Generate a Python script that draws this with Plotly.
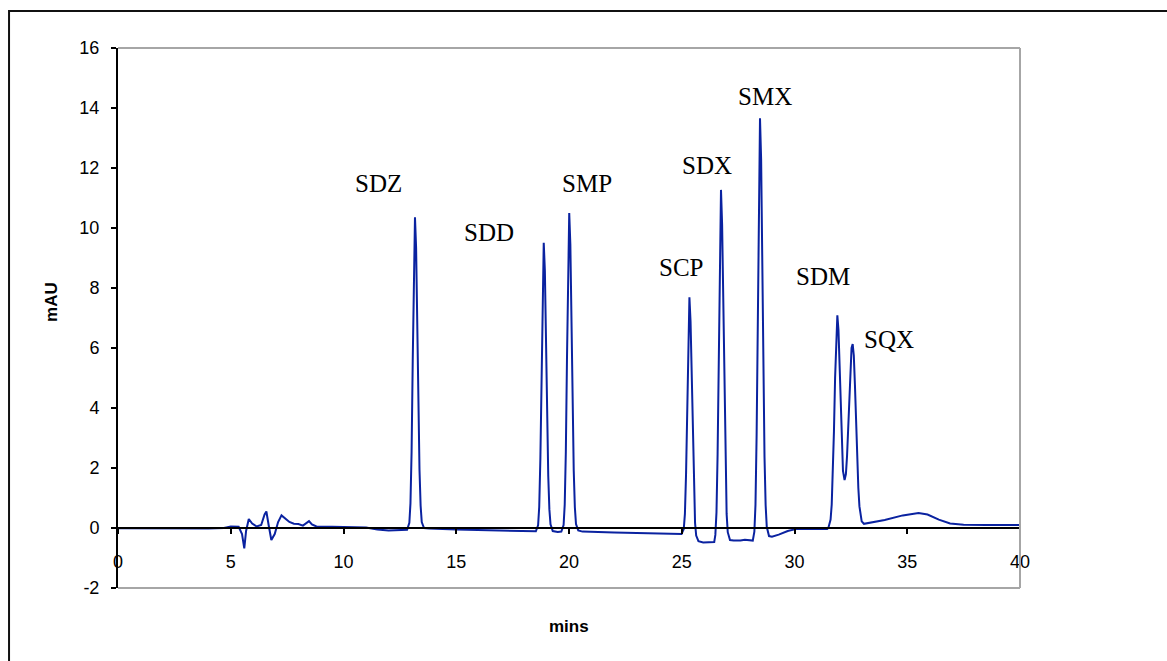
import plotly.graph_objects as go

# ---- data (time in minutes, signal in mAU) ----
time_min = [
    0.0, 2.0, 4.0, 4.7, 5.0, 5.35, 5.5, 5.6, 5.68, 5.8, 5.95, 6.15, 6.35, 6.5, 6.58, 6.68,
    6.8, 6.95, 7.1, 7.25, 7.4, 7.6, 7.8, 8.0, 8.2, 8.35, 8.47, 8.6, 8.8, 9.5, 10.5, 11.0,
    11.5, 12.0, 12.82,
    12.92, 12.97, 13.02, 13.07, 13.12, 13.17, 13.22, 13.27, 13.32, 13.37, 13.42, 13.47,
    13.57, 13.8, 15.0, 16.5, 17.8, 18.53,
    18.63, 18.68, 18.73, 18.78, 18.83, 18.88, 18.93, 18.98, 19.03, 19.08, 19.13, 19.18,
    19.28, 19.5, 19.66,
    19.76, 19.81, 19.86, 19.91, 19.96, 20.01, 20.06, 20.11, 20.16, 20.21, 20.26, 20.31,
    20.41, 20.6, 22.0, 23.5, 24.8, 24.99,
    25.09, 25.14, 25.19, 25.24, 25.29, 25.34, 25.39, 25.44, 25.49, 25.54, 25.59, 25.64,
    25.74, 25.95, 26.3, 26.44,
    26.49, 26.54, 26.59, 26.64, 26.69, 26.74, 26.79, 26.84, 26.89, 26.94, 26.99, 27.04,
    27.14, 27.3, 27.6, 27.8, 28.0, 28.15,
    28.22, 28.27, 28.32, 28.37, 28.42, 28.47, 28.52, 28.57, 28.62, 28.67, 28.72, 28.77,
    28.87, 29.0, 29.3, 29.7, 30.1, 31.0, 31.45,
    31.5, 31.6, 31.65, 31.7, 31.75, 31.8, 31.85, 31.9, 31.95, 32.0, 32.05, 32.1, 32.15,
    32.22, 32.28, 32.33, 32.38, 32.43, 32.48, 32.53, 32.58, 32.63, 32.68, 32.73, 32.78,
    32.83, 32.88, 32.98, 33.08, 33.3, 34.0, 34.8, 35.5, 35.9, 36.4, 36.9, 37.5, 38.5, 40.0,
]
mau = [
    -0.01, -0.02, -0.02, 0.0, 0.05, 0.04, -0.2, -0.68, -0.1, 0.3, 0.15, 0.05, 0.1, 0.45, 0.55, 0.1,
    -0.4, -0.2, 0.2, 0.42, 0.33, 0.2, 0.14, 0.13, 0.08, 0.15, 0.23, 0.12, 0.05, 0.04, 0.03, 0.02,
    -0.05, -0.08, -0.06,
    0.17, 0.83, 2.55, 5.57, 8.87, 10.36, 9.34, 6.84, 4.05, 1.94, 0.74, 0.20,
    0.0, -0.02, -0.05, -0.08, -0.1, -0.11,
    0.09, 0.71, 2.30, 5.08, 8.13, 9.51, 8.57, 6.26, 3.68, 1.73, 0.62, 0.12,
    -0.1, -0.13, -0.12,
    0.10, 0.78, 2.54, 5.61, 8.98, 10.50, 9.46, 6.91, 4.06, 1.91, 0.69, 0.13,
    -0.08, -0.12, -0.15, -0.18, -0.2, -0.2,
    -0.03, 0.47, 1.77, 4.06, 6.56, 7.69, 6.89, 4.94, 2.76, 1.10, 0.17, -0.25,
    -0.44, -0.48, -0.49, -0.47,
    -0.23, 0.52, 2.46, 5.87, 9.59, 11.27, 10.12, 7.32, 4.19, 1.81, 0.47, -0.14,
    -0.40, -0.42, -0.42, -0.39, -0.42, -0.42,
    -0.12, 0.78, 3.10, 7.18, 11.65, 13.66, 12.29, 8.94, 5.20, 2.37, 0.76, 0.04,
    -0.27, -0.29, -0.22, -0.1, -0.03, -0.03, -0.03,
    0.0, 0.28, 0.78, 1.75, 3.23, 5.0, 6.5, 7.09, 6.6, 5.3, 3.8, 2.6, 1.9,
    1.6, 1.8, 2.4, 3.3, 4.4, 5.4, 6.0, 6.13, 5.75, 4.77, 3.50, 2.28,
    1.34, 0.72, 0.22, 0.14, 0.17, 0.27, 0.42, 0.5, 0.45, 0.28, 0.15, 0.11, 0.1, 0.1,
]

peak_names = ["SDZ", "SDD", "SMP", "SCP", "SDX", "SMX", "SDM", "SQX"]
label_x = [11.53, 16.45, 20.78, 24.95, 26.11, 28.69, 31.28, 34.2]
label_y = [11.5, 9.84, 11.47, 8.7, 12.1, 14.4, 8.38, 6.27]

x_ticks = [0, 5, 10, 15, 20, 25, 30, 35, 40]
x_tick_text = ["0", "5", "10", "15", "20", "25", "30", "35", "40"]
y_ticks = [-2, 0, 2, 4, 6, 8, 10, 12, 14, 16]
y_tick_text = ["-2", "0", "2", "4", "6", "8", "10", "12", "14", "16"]
x_title = "mins"
y_title = "mAU"

fig = go.Figure()
fig.add_trace(go.Scatter(
    x=time_min, y=mau, mode="lines",
    line=dict(color="#0a22a0", width=2),
    hoverinfo="skip", showlegend=False,
))

for name, lx, ly in zip(peak_names, label_x, label_y):
    fig.add_annotation(
        x=lx, y=ly, xref="x", yref="y", text=name, showarrow=False,
        xanchor="center", yanchor="middle",
        font=dict(family="Liberation Serif, Times New Roman, serif", size=25, color="black"),
    )

# axis titles
fig.add_annotation(
    x=0.5, y=-0.0704, xref="paper", yref="paper", text=f"<b>{x_title}</b>",
    showarrow=False, xanchor="center", yanchor="middle",
    font=dict(family="Liberation Sans, Arial, sans-serif", size=17, color="black"),
)
fig.add_annotation(
    x=-0.073, y=0.53, xref="paper", yref="paper", text=f"<b>{y_title}</b>",
    showarrow=False, xanchor="center", yanchor="middle", textangle=-90,
    font=dict(family="Liberation Sans, Arial, sans-serif", size=17, color="black"),
)

# grey plot-area border (top, right, bottom)
grey = "#a6a6a6"
fig.add_shape(type="line", xref="paper", yref="paper", x0=0, x1=1, y0=1, y1=1,
              line=dict(color=grey, width=2))
fig.add_shape(type="line", xref="paper", yref="paper", x0=1, x1=1, y0=0, y1=1,
              line=dict(color=grey, width=2))
fig.add_shape(type="line", xref="paper", yref="paper", x0=0, x1=1, y0=0, y1=0,
              line=dict(color=grey, width=2))
# outer black frame (cropped on the right and bottom)
fig.add_shape(type="rect", xref="paper", yref="paper",
              x0=-0.1208, x1=1.25, y0=-0.25, y1=1.0685,
              line=dict(color="#111111", width=2))

y_min, y_max = -2, 16
fig.update_layout(
    width=1167, height=661,
    margin=dict(l=118, r=147, t=48, b=73),
    paper_bgcolor="white", plot_bgcolor="white",
    font=dict(family="Liberation Sans, Arial, sans-serif", size=18, color="black"),
    xaxis=dict(
        range=[0, 40], tickvals=x_ticks, ticktext=x_tick_text,
        ticks="outside", ticklen=5, tickwidth=1.5,
        tickcolor="black", showline=True, linecolor="black", linewidth=2,
        showgrid=False, zeroline=False, anchor="free",
        position=(0 - y_min) / (y_max - y_min),
        ticklabelstandoff=12,
        tickfont=dict(size=18),
    ),
    yaxis=dict(
        range=[y_min, y_max], tickvals=y_ticks, ticktext=y_tick_text,
        ticks="outside", ticklen=5, tickwidth=1.5,
        tickcolor="black", showline=True, linecolor="black", linewidth=2,
        showgrid=False, zeroline=False, domain=[0, 1],
        ticklabelstandoff=8,
        tickfont=dict(size=18),
    ),
)

fig.write_html("out.html")
